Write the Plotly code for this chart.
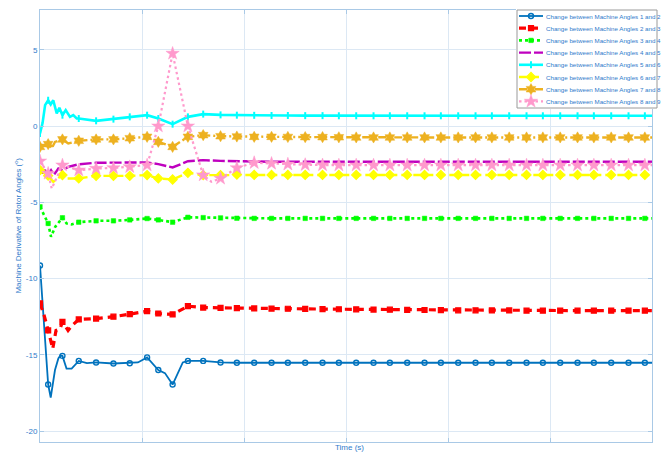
import plotly.graph_objects as go

# ---------------- data (time in axis units, value in degrees) ----------------
MARK_T = [0.00, 0.08, 0.22, 0.38, 0.55, 0.72, 0.88, 1.05, 1.16, 1.30, 1.45,
          1.60, 1.77, 1.93, 2.10, 2.27, 2.43, 2.60, 2.77, 2.93, 3.10, 3.27, 3.43, 3.60, 3.77,
          3.93, 4.10, 4.27, 4.43, 4.60, 4.77, 4.93, 5.10, 5.27, 5.43, 5.60, 5.77, 5.93]

s12_mark = [-9.14, -16.95, -15.07, -15.40, -15.50, -15.57, -15.55, -15.17, -16.00, -16.95, -15.40,
            -15.40, -15.50, -15.52, -15.52, -15.52, -15.52, -15.52, -15.52, -15.52, -15.52, -15.52,
            -15.52, -15.52, -15.52, -15.52, -15.52, -15.52, -15.52, -15.52, -15.52, -15.52, -15.52,
            -15.52, -15.52, -15.52, -15.52, -15.52]
s12_xt = [0.105, 0.147, 0.18, 0.20, 0.26, 0.31, 0.46, 0.96, 1.225, 1.40, 6.0]
s12_xv = [-17.8, -16.0, -15.24, -15.05, -15.9, -15.9, -15.55, -15.5, -16.2, -15.5, -15.52]

s23_mark = [-11.63, -13.40, -12.84, -12.68, -12.62, -12.50, -12.33, -12.14, -12.29, -12.35, -11.81,
            -11.90, -11.92, -11.94, -11.96, -11.97, -11.98, -11.99, -12.00, -12.01, -12.02, -12.03,
            -12.04, -12.05, -12.06, -12.07, -12.08, -12.08, -12.09, -12.09, -12.10, -12.10, -12.10,
            -12.10, -12.10, -12.10, -12.10, -12.10]
s23_xt = [0.04, 0.125, 0.157, 0.196, 0.275, 0.31, 6.0]
s23_xv = [-12.4, -14.6, -13.4, -13.3, -13.4, -13.1, -12.1]

s34_mark = [-5.29, -6.38, -6.01, -6.30, -6.21, -6.21, -6.15, -6.06, -6.15, -6.30, -5.98,
            -6.00, -6.02, -6.04, -6.05, -6.05, -6.05, -6.05, -6.05, -6.05, -6.05, -6.05,
            -6.05, -6.05, -6.05, -6.05, -6.05, -6.05, -6.05, -6.05, -6.05, -6.05, -6.05,
            -6.05, -6.05, -6.05, -6.05, -6.05]
s34_xt = [0.108, 0.13, 0.15, 0.26, 0.31, 6.0]
s34_xv = [-7.26, -6.93, -6.6, -6.38, -6.45, -6.05]

s45_mark = [-2.67, -3.15, -2.89, -2.50, -2.40, -2.38, -2.38, -2.38, -2.49, -2.71, -2.30,
            -2.23, -2.28, -2.31, -2.34, -2.34, -2.34, -2.34, -2.34, -2.34, -2.34, -2.34,
            -2.34, -2.34, -2.34, -2.34, -2.34, -2.34, -2.34, -2.34, -2.34, -2.34, -2.34,
            -2.34, -2.34, -2.34, -2.34, -2.34]
s45_xt = [0.032, 0.059, 0.108, 0.137, 0.18, 0.277, 6.0]
s45_xv = [-3.1, -2.78, -2.89, -3.2, -2.78, -2.67, -2.34]

s56_mark = [-0.48, 1.70, 0.72, 0.50, 0.35, 0.46, 0.61, 0.72, 0.50, 0.13, 0.61,
            0.79, 0.74, 0.72, 0.71, 0.70, 0.70, 0.69, 0.69, 0.68, 0.68, 0.68,
            0.68, 0.68, 0.68, 0.68, 0.68, 0.68, 0.68, 0.68, 0.68, 0.68, 0.68,
            0.68, 0.68, 0.68, 0.68, 0.68]
s56_xt = [0.025, 0.05, 0.105, 0.13, 0.164, 0.19, 0.252, 0.294, 0.326, 0.36, 6.0]
s56_xv = [0.2, 1.38, 1.42, 1.70, 0.83, 1.20, 1.05, 0.61, 0.72, 0.50, 0.68]

s67_mark = [-2.89, -3.25, -3.21, -3.43, -3.26, -3.26, -3.26, -3.21, -3.43, -3.50, -3.06,
            -3.21, -3.21, -3.17, -3.20, -3.20, -3.20, -3.20, -3.20, -3.20, -3.20, -3.20,
            -3.20, -3.20, -3.20, -3.20, -3.20, -3.20, -3.20, -3.20, -3.20, -3.20, -3.20,
            -3.20, -3.20, -3.20, -3.20, -3.20]
s67_xt = [0.13, 0.245, 6.0]
s67_xv = [-3.65, -3.43, -3.2]

s78_mark = [-1.36, -1.18, -0.87, -0.96, -0.87, -0.87, -0.79, -0.70, -1.03, -1.36, -0.70,
            -0.59, -0.66, -0.68, -0.70, -0.70, -0.71, -0.72, -0.72, -0.73, -0.74, -0.74,
            -0.74, -0.74, -0.74, -0.74, -0.74, -0.74, -0.74, -0.74, -0.74, -0.74, -0.74,
            -0.74, -0.74, -0.74, -0.74, -0.74]
s78_xt = [0.115, 0.147, 0.277, 6.0]
s78_xv = [-1.46, -1.03, -1.14, -0.74]

s89_mark = [-2.30, -3.10, -2.56, -2.89, -2.78, -2.74, -2.67, -2.56, 0.00, 4.77, 0.00,
            -3.21, -3.43, -2.74, -2.40, -2.45, -2.50, -2.53, -2.55, -2.56, -2.56, -2.56,
            -2.56, -2.56, -2.56, -2.56, -2.56, -2.56, -2.56, -2.56, -2.56, -2.56, -2.56,
            -2.56, -2.56, -2.56, -2.56, -2.56]
s89_xt = [0.115, 1.68, 6.0]
s89_xv = [-4.09, -3.65, -2.56]

NAMES = ["Change between Machine Angles 1 and 2", "Change between Machine Angles 2 and 3",
         "Change between Machine Angles 3 and 4", "Change between Machine Angles 4 and 5",
         "Change between Machine Angles 5 and 6", "Change between Machine Angles 6 and 7",
         "Change between Machine Angles 7 and 8", "Change between Machine Angles 8 and 9"]

Y_TICKS = [-20, -15, -10, -5, 0, 5]
Y_TICK_TEXT = ["-20", "-15", "-10", "-5", "0", "5"]

# ---------------- styles ----------------
TXT = "#2F7BCB"
AXC = "#A9C9E6"
GRID = "#DCE8F4"
FONT = "Liberation Sans, Arial, sans-serif"

series = [
    dict(mark=s12_mark, xt=s12_xt, xv=s12_xv, color="#0072BD", width=1.8, dash="solid",
         sym="circle-open", size=5, mlw=1.4, mfill=None),
    dict(mark=s23_mark, xt=s23_xt, xv=s23_xv, color="#FF0000", width=3.2, dash="7px,5px",
         sym="square", size=5, mlw=1.2, mfill="#FF0000"),
    dict(mark=s34_mark, xt=s34_xt, xv=s34_xv, color="#00FF00", width=2.6, dash="3px,3px",
         sym="square", size=4.5, mlw=0.5, mfill="#00FF00"),
    dict(mark=s45_mark, xt=s45_xt, xv=s45_xv, color="#BF00BF", width=2.4, dash="12px,3px",
         sym=None, size=0, mlw=0, mfill=None),
    dict(mark=s56_mark, xt=s56_xt, xv=s56_xv, color="#00FFFF", width=2.6, dash="solid",
         sym="line-ns-open", size=5, mlw=2, mfill=None),
    dict(mark=s67_mark, xt=s67_xt, xv=s67_xv, color="#FFFF00", width=2.4, dash="8px,4px",
         sym="diamond", size=7, mlw=1.2, mfill="#FFFF00"),
    dict(mark=s78_mark, xt=s78_xt, xv=s78_xv, color="#EDB120", width=2.4, dash="8px,3px,2px,3px",
         sym="hexagram", size=8.5, mlw=0.5, mfill="#EDB120"),
    dict(mark=s89_mark, xt=s89_xt, xv=s89_xv, color="#FF99CC", width=2.2, dash="2.5px,3px",
         sym="star", size=10, mlw=0.5, mfill="#FF99CC"),
]

fig = go.Figure()

for s in series:
    pts = sorted(list(zip(MARK_T, s["mark"])) + list(zip(s["xt"], s["xv"])))
    fig.add_trace(go.Scatter(x=[p[0] for p in pts], y=[p[1] for p in pts], mode="lines",
                             line=dict(color=s["color"], width=s["width"], dash=s["dash"]),
                             showlegend=False, hoverinfo="skip"))
    if s["sym"]:
        fig.add_trace(go.Scatter(x=MARK_T, y=s["mark"], mode="markers",
                                 marker=dict(symbol=s["sym"], size=s["size"],
                                             color=s["mfill"] or s["color"],
                                             line=dict(color=s["color"], width=s["mlw"])),
                                 showlegend=False, hoverinfo="skip"))

# ---------------- manual legend on overlay axes (pixel-like units) ----------------
LX0, LX1, LY0, LY1 = 517, 657, 10, 108
fig.add_trace(go.Scatter(x=[LX0, LX1, LX1, LX0, LX0], y=[LY0, LY0, LY1, LY1, LY0],
                         xaxis="x2", yaxis="y2", mode="lines", fill="toself",
                         fillcolor="white", line=dict(color="#9A9A9A", width=1),
                         showlegend=False, hoverinfo="skip"))
rows = [16 + 12.2 * i for i in range(8)]
annotations = []
for i, s in enumerate(series):
    ry = rows[i]
    fig.add_trace(go.Scatter(x=[519, 543], y=[ry, ry], xaxis="x2", yaxis="y2", mode="lines",
                             line=dict(color=s["color"], width=s["width"], dash=s["dash"]),
                             showlegend=False, hoverinfo="skip"))
    if s["sym"]:
        fig.add_trace(go.Scatter(x=[531], y=[ry], xaxis="x2", yaxis="y2", mode="markers",
                                 marker=dict(symbol=s["sym"], size=s["size"],
                                             color=s["mfill"] or s["color"],
                                             line=dict(color=s["color"], width=s["mlw"])),
                                 showlegend=False, hoverinfo="skip"))
    annotations.append(dict(x=544, y=ry, xref="x2", yref="y2", text=NAMES[i], showarrow=False,
                            xanchor="left", yanchor="middle",
                            font=dict(size=6.2, color=TXT, family=FONT)))

annotations.append(dict(x=-0.036, y=0.498, xref="paper", yref="paper", textangle=-90,
                        text="Machine Derivative of Rotor Angles (<sup>o</sup>)", showarrow=False,
                        xanchor="center", yanchor="middle",
                        font=dict(size=8, color=TXT, family=FONT)))
annotations.append(dict(x=0.5, y=-0.012, xref="paper", yref="paper", text="Time (s)",
                        showarrow=False, xanchor="center", yanchor="middle",
                        font=dict(size=8, color=TXT, family=FONT)))

W, H = 668, 452
ML, MR, MT, MB = 40, 10, 8, 10
PW, PH = W - ML - MR, H - MT - MB

fig.update_layout(
    width=W, height=H, margin=dict(l=ML, r=MR, t=MT, b=MB),
    plot_bgcolor="white", paper_bgcolor="white", showlegend=False,
    font=dict(family=FONT, color=TXT),
    annotations=annotations,
    xaxis=dict(domain=[0, 612 / PW], range=[0, 6], tick0=0, dtick=1, showticklabels=False,
               ticks="inside", ticklen=4, tickcolor=AXC, showline=True, linecolor=AXC,
               linewidth=1, mirror="ticks", showgrid=True, gridcolor=GRID, zeroline=False),
    yaxis=dict(domain=[0, 432 / PH], range=[-20.72, 7.62], tickvals=Y_TICKS, ticktext=Y_TICK_TEXT,
               ticks="inside", ticklen=4, tickcolor=AXC, showline=True, linecolor=AXC,
               linewidth=1, mirror="ticks", showgrid=True, gridcolor=GRID, zeroline=False,
               tickfont=dict(size=8, color=TXT, family=FONT)),
    xaxis2=dict(domain=[(516 - ML) / PW, (658 - ML) / PW], range=[516, 658], anchor="y2",
                visible=False, fixedrange=True),
    yaxis2=dict(domain=[(H - MB - 109) / PH, (H - MB - 9) / PH], range=[109, 9], anchor="x2",
                visible=False, fixedrange=True),
)

fig.write_html("out.html", config={"displayModeBar": False},
               post_script="document.body.style.margin='0';")
